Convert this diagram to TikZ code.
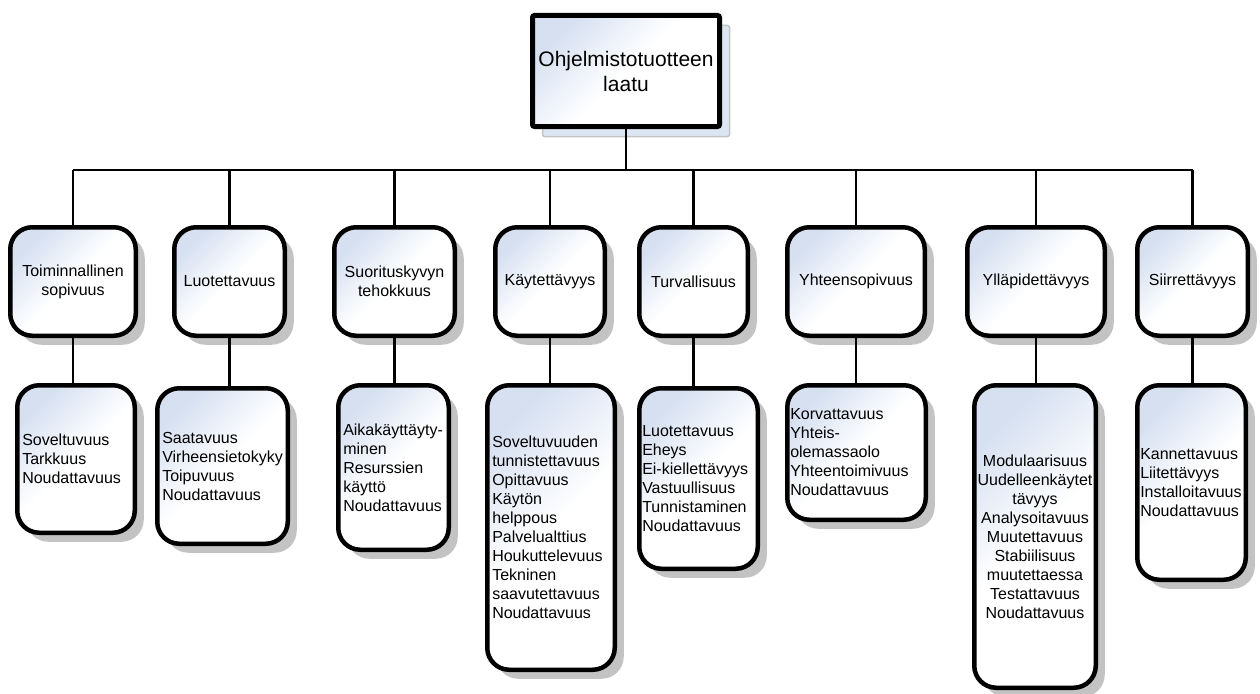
\documentclass[tikz,border=0pt]{standalone}
\usepackage{fontspec}
\setmainfont{Liberation Sans}
\usetikzlibrary{shadows}
\definecolor{boxblue}{RGB}{214,224,241}
\definecolor{shadowgray}{RGB}{195,195,195}
\definecolor{topshadow}{RGB}{220,230,242}
\begin{document}
\begin{tikzpicture}[x=1pt,y=-1pt,
  grad/.style={top color=boxblue, bottom color=white, middle color=white, shading angle=45},
  box/.style={draw=black, line width=4.5pt, rounded corners=22pt, grad,
    drop shadow={shadow xshift=9pt, shadow yshift=-9pt, fill=shadowgray, opacity=1},
    inner sep=0pt},
  topbox/.style={draw=black, line width=5pt, rounded corners=2pt, grad,
    drop shadow={shadow xshift=10pt, shadow yshift=-10pt, fill=topshadow, draw=shadowgray, line width=1.5pt, opacity=1},
    align=center, font=\fontsize{21}{25}\selectfont, inner sep=0pt},
  upbox/.style={box, align=center, minimum height=108.5pt, font=\fontsize{16}{19}\selectfont},
  lowbox/.style={box, inner xsep=5pt, align=left, font=\fontsize{16}{19}\selectfont},
  link/.style={draw=black, line width=2.5pt}
]
\useasboundingbox (0,0) rectangle (1260,693);

% top
\node[topbox, minimum width=187pt, minimum height=111pt] (top) at (626,71) {Ohjelmistotuotteen\\laatu};

% level 1
\node[upbox, minimum width=125.5pt] (u1) at (73,281.5) {Toiminnallinen\\sopivuus};
\node[upbox, minimum width=110.5pt] (u2) at (229.5,281.5) {Luotettavuus};
\node[upbox, minimum width=120.5pt] (u3) at (394.5,281.5) {Suorituskyvyn\\tehokkuus};
\node[upbox, minimum width=109.5pt] (u4) at (550,281.5) {Käytettävyys};
\node[upbox, minimum width=108.5pt] (u5) at (693.5,281.5) {Turvallisuus};
\node[upbox, minimum width=137.5pt] (u6) at (856,281.5) {Yhteensopivuus};
\node[upbox, minimum width=137.5pt] (u7) at (1036,281.5) {Ylläpidettävyys};
\node[upbox, minimum width=110.5pt] (u8) at (1192.5,281.5) {Siirrettävyys};

% level 2
\node[lowbox, text width=107.5pt, minimum height=147.5pt] (l1) at (76,459)
  {Soveltuvuus\\Tarkkuus\\Noudattavuus};
\node[lowbox, text width=120.5pt, minimum height=155.5pt] (l2) at (222.5,466)
  {Saatavuus\\Virheensietokyky\\Toipuvuus\\Noudattavuus};
\node[lowbox, text width=100.5pt, minimum height=164.5pt] (l3) at (393.5,467.5)
  {Aikakäyttäyty-\\minen\\Resurssien\\käyttö\\Noudattavuus};
\node[lowbox, text width=117.5pt, minimum height=284.5pt] (l4) at (551,527.5)
  {Soveltuvuuden\\tunnistettavuus\\Opittavuus\\Käytön\\helppous\\Palvelualttius\\Houkuttelevuus\\Tekninen\\saavutettavuus\\Noudattavuus};
\node[lowbox, inner xsep=3pt, text width=112.5pt, minimum height=180.5pt] (l5) at (698.5,478.5)
  {Luotettavuus\\Eheys\\Ei-kiellettävyys\\Vastuullisuus\\Tunnistaminen\\Noudattavuus};
\node[lowbox, inner xsep=3pt, text width=132.5pt, minimum height=134.5pt] (l6) at (856.5,452.5)
  {Korvattavuus\\Yhteis-\\olemassaolo\\Yhteentoimivuus\\Noudattavuus};
\node[lowbox, align=center, inner xsep=2pt, text width=117.5pt, minimum height=302.5pt] (l7) at (1035,536.5)
  {Modulaarisuus\\Uudelleenkäytet\\tävyys\\Analysoitavuus\\Muutettavuus\\Stabiilisuus\\muutettaessa\\Testattavuus\\Noudattavuus};
\node[lowbox, inner xsep=3pt, text width=102.5pt, minimum height=194.5pt] (l8) at (1191.5,482.5)
  {Kannettavuus\\Liitettävyys\\Installoitavuus\\Noudattavuus};

% connectors
\coordinate (bus) at (626,170);
\draw[link] (top.south) -- (top.south |- bus);
\draw[link] (u1.north |- bus) -- (u8.north |- bus);
\foreach \i in {1,...,8} {
  \draw[link] (u\i.north) -- (u\i.north |- bus);
  \draw[link] (u\i.south) -- (u\i.south |- l\i.north);
}
\end{tikzpicture}
\end{document}
